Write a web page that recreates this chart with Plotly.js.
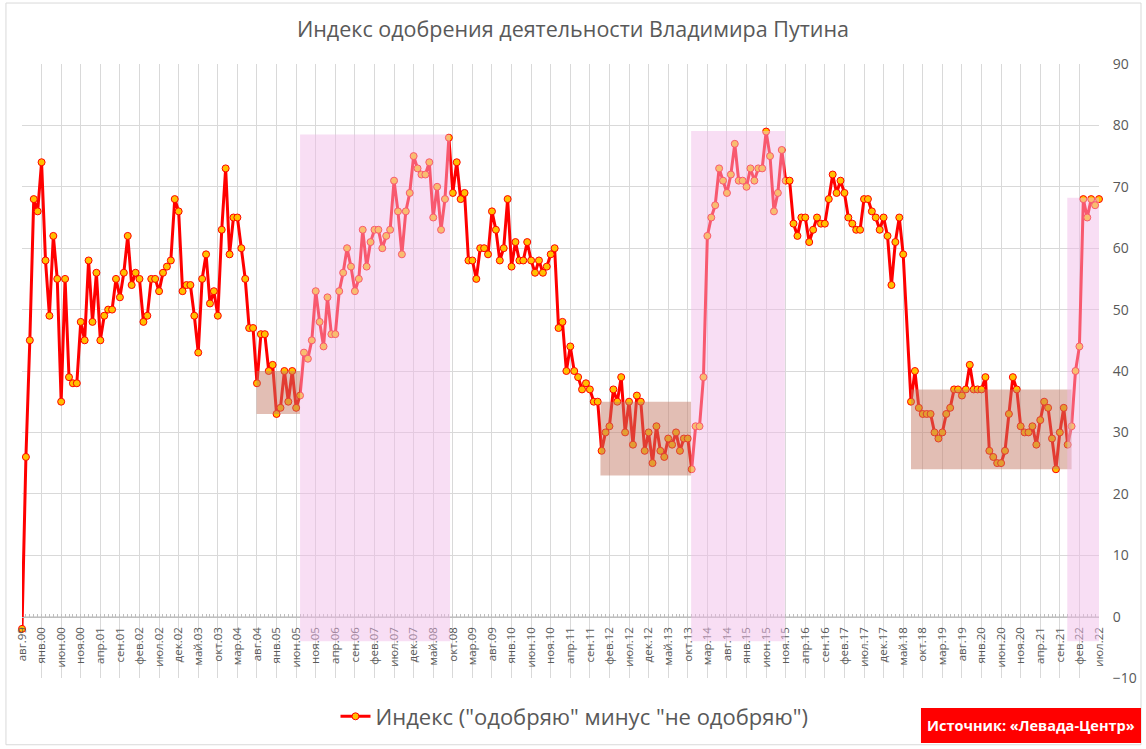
<!DOCTYPE html>
<html>
<head>
<meta charset="utf-8">
<script src="https://cdn.plot.ly/plotly-3.0.1.min.js"></script>
<style>
  html, body { margin: 0; padding: 0; background: #fff; }
  #chart { width: 1146px; height: 749px; }
</style>
</head>
<body>
<div id="chart"></div>
<script>
// Индекс одобрения: "одобряю" минус "не одобряю", помесячно с авг.1999 по июл.2022
// (июн.18 на графике пропущен)
const indexValues = [
  -2, 26, 45, 68, 66,                              // авг.99 - дек.99
  74, 58, 49, 62, 55, 35, 55, 39, 38, 38, 48, 45,  // 2000
  58, 48, 56, 45, 49, 50, 50, 55, 52, 56, 62, 54,  // 2001
  56, 55, 48, 49, 55, 55, 53, 56, 57, 58, 68, 66,  // 2002
  53, 54, 54, 49, 43, 55, 59, 51, 53, 49, 63, 73,  // 2003
  59, 65, 65, 60, 55, 47, 47, 38, 46, 46, 40, 41,  // 2004
  33, 34, 40, 35, 40, 34, 36, 43, 42, 45, 53, 48,  // 2005
  44, 52, 46, 46, 53, 56, 60, 57, 53, 55, 63, 57,  // 2006
  61, 63, 63, 60, 62, 63, 71, 66, 59, 66, 69, 75,  // 2007
  73, 72, 72, 74, 65, 70, 63, 68, 78, 69, 74, 68,  // 2008
  69, 58, 58, 55, 60, 60, 59, 66, 63, 58, 60, 68,  // 2009
  57, 61, 58, 58, 61, 58, 56, 58, 56, 57, 59, 60,  // 2010
  47, 48, 40, 44, 40, 39, 37, 38, 37, 35, 35, 27,  // 2011
  30, 31, 37, 35, 39, 30, 35, 28, 36, 35, 27, 30,  // 2012
  25, 31, 27, 26, 29, 28, 30, 27, 29, 29, 24, 31,  // 2013
  31, 39, 62, 65, 67, 73, 71, 69, 72, 77, 71, 71,  // 2014
  70, 73, 71, 73, 73, 79, 75, 66, 69, 76, 71, 71,  // 2015
  64, 62, 65, 65, 61, 63, 65, 64, 64, 68, 72, 69,  // 2016
  71, 69, 65, 64, 63, 63, 68, 68, 66, 65, 63, 65,  // 2017
  62, 54, 61, 65, 59, null, 35, 40, 34, 33, 33, 33,// 2018
  30, 29, 30, 33, 34, 37, 37, 36, 37, 41, 37, 37,  // 2019
  37, 39, 27, 26, 25, 25, 27, 33, 39, 37, 31, 30,  // 2020
  30, 31, 28, 32, 35, 34, 29, 24, 30, 34, 28, 31,  // 2021
  40, 44, 68, 65, 68, 67, 68                       // 2022
];

// подписи оси X (каждая пятая категория)
const tickLabels = [
  'авг.99','янв.00','июн.00','ноя.00','апр.01','сен.01','фев.02','июл.02','дек.02',
  'май.03','окт.03','мар.04','авг.04','янв.05','июн.05','ноя.05','апр.06','сен.06',
  'фев.07','июл.07','дек.07','май.08','окт.08','мар.09','авг.09','янв.10','июн.10',
  'ноя.10','апр.11','сен.11','фев.12','июл.12','дек.12','май.13','окт.13','мар.14',
  'авг.14','янв.15','июн.15','ноя.15','апр.16','сен.16','фев.17','июл.17','дек.17',
  'май.18','окт.18','мар.19','авг.19','янв.20','июн.20','ноя.20','апр.21','сен.21',
  'фев.22','июл.22'
];

const seriesName = 'Индекс ("одобряю" минус "не одобряю")';

// category positions
const xPos = [];
for (let i = 0; i < indexValues.length; i++) xPos.push(i);
const tickPos = [];
for (let i = 0; i < tickLabels.length; i++) tickPos.push(i * 5);

const grey = '#595959';
const pink = 'rgba(240,187,233,0.48)';
const brown = 'rgba(196,122,102,0.49)';

function box(x0, x1, y0, y1, color) {
  return { type: 'rect', xref: 'x', yref: 'y', x0: x0, x1: x1, y0: y0, y1: y1,
           fillcolor: color, line: { width: 0 }, layer: 'above' };
}

const data = [{
  x: xPos,
  y: indexValues,
  name: seriesName,
  type: 'scatter',
  mode: 'lines+markers',
  connectgaps: true,
  cliponaxis: false,
  line: { color: '#FF0000', width: 3 },
  marker: { size: 7, color: '#FFC000', line: { color: '#FF0000', width: 1 } },
  hoverinfo: 'y'
}];

const layout = {
  width: 1146,
  height: 749,
  margin: { l: 22, r: 47, t: 64, b: 71 },
  paper_bgcolor: '#fff',
  plot_bgcolor: '#fff',
  font: { family: '"Open Sans", "Liberation Sans", sans-serif', color: grey },
  title: {
    text: 'Индекс одобрения деятельности Владимира Путина',
    font: { size: 21.5, color: grey },
    x: 0.5, xref: 'container', xanchor: 'center',
    y: 0.96, yref: 'container', yanchor: 'middle'
  },
  xaxis: {
    range: [0, 275],
    anchor: 'free',
    position: 0.1,
    tickmode: 'array',
    tickvals: tickPos,
    ticktext: tickLabels,
    tickangle: -90,
    tickfont: { size: 11.5, color: grey },
    ticks: 'inside',
    ticklen: 3,
    tickcolor: '#BFBFBF',
    ticklabelstandoff: 5,
    minor: { tickmode: 'array', tickvals: xPos, ticks: 'inside', ticklen: 3,
             tickcolor: '#BFBFBF', showgrid: false },
    showgrid: true,
    gridcolor: '#D9D9D9',
    gridwidth: 1,
    showline: true,
    linecolor: '#BFBFBF',
    linewidth: 1,
    zeroline: false,
    fixedrange: true
  },
  yaxis: {
    range: [-10, 90],
    side: 'right',
    dtick: 10,
    tick0: 0,
    tickfont: { size: 14, color: grey },
    ticks: 'outside',
    ticklen: 10,
    tickcolor: 'rgba(0,0,0,0)',
    showgrid: true,
    gridcolor: '#D9D9D9',
    gridwidth: 1,
    zeroline: false,
    showline: false,
    fixedrange: true
  },
  showlegend: true,
  legend: {
    orientation: 'h',
    x: 0.513, xanchor: 'center',
    y: -0.0627, yanchor: 'middle',
    font: { size: 22, color: grey },
    bgcolor: 'rgba(0,0,0,0)'
  },
  shapes: [
    // рамка диаграммы
    { type: 'rect', xref: 'paper', yref: 'paper', x0: -0.0149, x1: 1.0390, y0: -0.1087, y1: 1.0993,
      line: { color: '#D9D9D9', width: 1 }, layer: 'below' },
    box(59.9, 71, 33, 40, brown),
    box(71, 109.3, -4, 78.5, pink),
    box(147.7, 170.85, 23, 35, brown),
    box(170.85, 194.8, -4, 79.1, pink),
    box(227, 268, 24, 37, brown),
    box(266.9, 275, -4, 68.2, pink),
    // плашка источника
    { type: 'rect', xref: 'paper', yref: 'paper', x0: 0.8347, x1: 1.0390, y0: -0.1059, y1: -0.0489,
      fillcolor: '#FF0000', line: { width: 0 }, layer: 'above' }
  ],
  annotations: [{
    text: '<b>Источник: «Левада-Центр»</b>',
    xref: 'paper', yref: 'paper',
    x: 0.9369, y: -0.0774, xanchor: 'center', yanchor: 'middle',
    showarrow: false,
    font: { size: 14.5, color: '#FFFFFF' }
  }]
};

Plotly.newPlot('chart', data, layout, { displayModeBar: false, staticPlot: true });
</script>
</body>
</html>
